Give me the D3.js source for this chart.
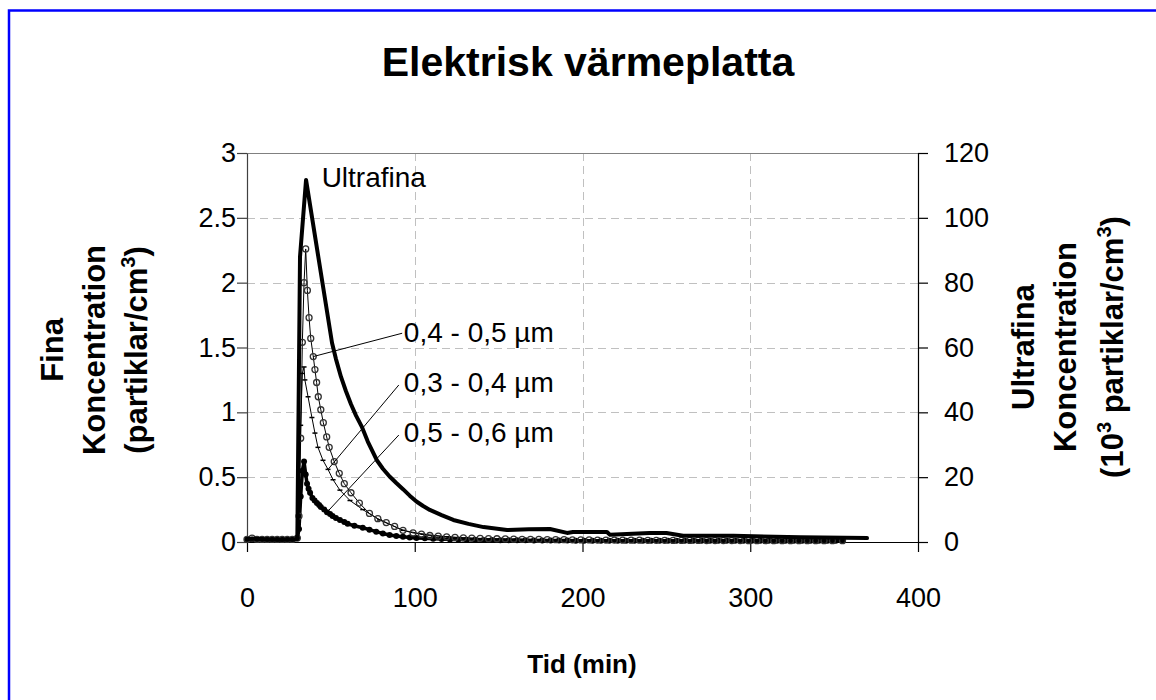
<!DOCTYPE html>
<html>
<head>
<meta charset="utf-8">
<script src="https://cdn.jsdelivr.net/npm/d3@7/dist/d3.min.js"></script>
<style>
  html, body { margin: 0; padding: 0; background: #fff; }
  svg { display: block; font-family: "Liberation Sans", Arial, sans-serif; }
</style>
</head>
<body>
<svg id="chart" width="1156" height="700"></svg>
<script>
// ---------- DATA ----------
const titleText = "Elektrisk värmeplatta";
const xTicks = [0, 100, 200, 300, 400];
const yLeftTicks = [0, 0.5, 1, 1.5, 2, 2.5, 3];
const yRightTicks = [0, 20, 40, 60, 80, 100, 120];

// Ultrafina (10^3 partiklar/cm3), right axis
const ultraTime = [0, 4, 8, 12, 16, 20, 24, 28, 30, 31.6, 35.2, 50.7, 53, 56, 59, 62, 65, 68.4, 72, 77.3, 81, 85, 89, 93, 97, 101, 105, 109, 116, 123, 132, 141, 155, 168, 180.6, 190.8, 194.3, 214.6, 216.4, 240, 250, 260, 290, 330, 369.6];
const ultraValue = [0.9, 1.0, 0.9, 0.8, 0.8, 0.7, 0.8, 0.8, 0.9, 88, 111.7, 61.4, 56.5, 51, 46.5, 42.5, 39, 35.6, 31, 25.3, 22.6, 20.2, 18.2, 16.3, 14.3, 12.5, 11.1, 9.9, 8.3, 6.8, 5.6, 4.6, 3.7, 3.9, 4.0, 2.8, 3.1, 3.1, 2.2, 2.8, 2.8, 1.9, 1.9, 1.5, 1.2];

// 0,4 - 0,5 µm (partiklar/cm3), left axis
const s45Time = [0, 3, 6, 9, 12, 15, 18, 21, 24, 27, 30, 31, 32, 33, 34, 35, 36, 37, 38, 39.5, 40.5, 41.5, 42.5, 44, 45.5, 47.5, 49, 52, 55, 58, 62, 67, 73, 78, 83, 88, 93, 99, 104, 109, 114, 119, 124, 129, 134, 139, 144, 149, 154, 159, 164, 169, 174, 179, 184, 189, 194, 199, 204, 209, 214, 219, 224, 229, 234, 239, 244, 249, 254, 259, 264, 269, 274, 279, 284, 289, 294, 299, 304, 309, 314, 319, 324, 329, 334, 339, 344, 349, 355];
const s45Value = [0.02, 0.03, 0.02, 0.02, 0.02, 0.02, 0.02, 0.02, 0.02, 0.02, 0.03, 0.2, 0.8, 1.54, 2.0, 2.26, 1.94, 1.73, 1.57, 1.43, 1.33, 1.23, 1.12, 1.02, 0.92, 0.81, 0.73, 0.62, 0.53, 0.45, 0.38, 0.30, 0.22, 0.18, 0.15, 0.12, 0.09, 0.07, 0.06, 0.05, 0.045, 0.04, 0.035, 0.032, 0.03, 0.028, 0.026, 0.025, 0.024, 0.022, 0.021, 0.02, 0.02, 0.019, 0.018, 0.018, 0.017, 0.016, 0.016, 0.015, 0.015, 0.015, 0.014, 0.014, 0.014, 0.013, 0.013, 0.013, 0.012, 0.012, 0.012, 0.012, 0.011, 0.011, 0.011, 0.011, 0.011, 0.01, 0.01, 0.01, 0.01, 0.01, 0.01, 0.01, 0.01, 0.01, 0.01, 0.01, 0.01];

// 0,3 - 0,4 µm
const s34Time = [0, 3, 6, 9, 12, 15, 18, 21, 24, 27, 30, 31, 32, 33, 34, 34.5, 36.4, 38.7, 40.5, 42.3, 45.3, 48.3, 51.3, 55.4, 61.4, 69, 79, 93, 105, 120, 140, 160, 180, 200, 225, 250, 275, 300, 325, 355];
const s34Value = [0.02, 0.02, 0.02, 0.02, 0.02, 0.02, 0.02, 0.02, 0.02, 0.02, 0.03, 0.3, 0.9, 1.3, 1.35, 1.25, 1.12, 0.96, 0.84, 0.73, 0.63, 0.56, 0.48, 0.40, 0.32, 0.25, 0.17, 0.09, 0.06, 0.04, 0.025, 0.02, 0.015, 0.012, 0.01, 0.01, 0.01, 0.01, 0.01, 0.01];

// 0,5 - 0,6 µm
const s56Time = [0, 3, 6, 9, 12, 15, 18, 21, 24, 27, 30, 31, 32, 33, 34, 35, 35.8, 36.7, 37.6, 39, 40.3, 41.7, 43, 44, 46, 47.7, 49.5, 51, 53, 55.4, 58, 60, 64, 69, 73, 77, 81, 85, 89, 93, 97, 101, 106, 111, 116, 121, 126, 131, 136, 141, 146, 151, 156, 161, 166, 171, 176, 181, 186, 191, 196, 201, 206, 211, 216, 221, 226, 231, 236, 241, 246, 251, 256, 261, 266, 271, 276, 281, 286, 291, 296, 301, 306, 311, 316, 321, 326, 331, 336, 341, 346, 351, 355];
const s56Value = [0.02, 0.02, 0.02, 0.02, 0.02, 0.02, 0.02, 0.02, 0.02, 0.02, 0.03, 0.1, 0.35, 0.55, 0.62, 0.52, 0.45, 0.41, 0.38, 0.34, 0.32, 0.30, 0.285, 0.27, 0.25, 0.23, 0.215, 0.20, 0.185, 0.17, 0.155, 0.14, 0.125, 0.11, 0.095, 0.08, 0.066, 0.054, 0.047, 0.04, 0.035, 0.03, 0.028, 0.025, 0.023, 0.02, 0.019, 0.018, 0.017, 0.016, 0.015, 0.014, 0.014, 0.013, 0.013, 0.012, 0.012, 0.011, 0.011, 0.011, 0.01, 0.01, 0.01, 0.01, 0.01, 0.01, 0.01, 0.01, 0.01, 0.01, 0.01, 0.01, 0.01, 0.01, 0.01, 0.01, 0.01, 0.01, 0.01, 0.01, 0.01, 0.01, 0.01, 0.01, 0.01, 0.01, 0.01, 0.01, 0.01, 0.01, 0.01, 0.01, 0.01];

// annotation labels (data units)
const labelUltra = { text: "Ultrafina", t: 44.5, v: 109.5 };
const labelFine = [
  { text: "0,4 - 0,5 µm", t: 93.5, v: 1.54, lineT: 92.5, lineV: 1.61, series: "s45", idx: 19 },
  { text: "0,3 - 0,4 µm", t: 93.5, v: 1.158, lineT: 90.5, lineV: 1.211, series: "s34", idx: 21 },
  { text: "0,5 - 0,6 µm", t: 93.5, v: 0.772, lineT: 90.5, lineV: 0.825, series: "s56", idx: 25 }
];

// ---------- CHART ----------
const svg = d3.select("#chart");
const plot = { left: 247, right: 918, top: 153, bottom: 542 };
const FONT = '"Liberation Sans", Arial, sans-serif';

// outer blue frame
svg.append("rect").attr("x", 9).attr("y", 10.5).attr("width", 1300).attr("height", 900)
  .attr("fill", "#fff").attr("stroke", "#0000ff").attr("stroke-width", 2.5);

const x = d3.scaleLinear().domain([0, 400]).range([plot.left, plot.right]);
const yL = d3.scaleLinear().domain([0, 3]).range([plot.bottom, plot.top]);
const yR = d3.scaleLinear().domain([0, 120]).range([plot.bottom, plot.top]);

// gridlines
const grid = svg.append("g").attr("stroke", "#c0c0c0").attr("stroke-width", 1).attr("stroke-dasharray", "8,5");
grid.selectAll("line.h").data(yLeftTicks.filter(d => d > 0 && d < 3)).join("line")
  .attr("x1", plot.left).attr("x2", plot.right)
  .attr("y1", d => Math.round(yL(d)) + 0.5).attr("y2", d => Math.round(yL(d)) + 0.5);
grid.selectAll("line.v").data(xTicks.filter(d => d > 0 && d < 400)).join("line")
  .attr("y1", plot.top).attr("y2", plot.bottom)
  .attr("x1", d => Math.round(x(d)) + 0.5).attr("x2", d => Math.round(x(d)) + 0.5);

// top border of plot
svg.append("line").attr("x1", plot.left).attr("x2", plot.right)
  .attr("y1", plot.top + 0.5).attr("y2", plot.top + 0.5).attr("stroke", "#808080").attr("stroke-width", 1);

// axes
function styleAxis(g, color) {
  g.selectAll("path").attr("stroke", color).attr("stroke-width", 1.2);
  g.selectAll("line").attr("stroke", color).attr("stroke-width", 1.2);
  g.selectAll("text").attr("fill", "#000").style("font-family", FONT).style("font-size", "27px");
}
const gx = svg.append("g").attr("transform", `translate(0,${plot.bottom})`)
  .call(d3.axisBottom(x).tickValues(xTicks).tickFormat(d3.format("d")).tickSize(10).tickSizeOuter(0).tickPadding(36));
styleAxis(gx, "#000");

const gyl = svg.append("g").attr("transform", `translate(${plot.left},0)`)
  .call(d3.axisLeft(yL).tickValues(yLeftTicks).tickFormat(d => String(d)).tickSize(10).tickSizeOuter(0).tickPadding(1));
styleAxis(gyl, "#404040");

const gyr = svg.append("g").attr("transform", `translate(${plot.right},0)`)
  .call(d3.axisRight(yR).tickValues(yRightTicks).tickFormat(d3.format("d")).tickSize(10).tickSizeOuter(0).tickPadding(16));
styleAxis(gyr, "#000");

// series
const zip = (t, v) => t.map((d, i) => ({ t: d, v: v[i] }));
const ultra = zip(ultraTime, ultraValue);
const s45 = zip(s45Time, s45Value);
const s34 = zip(s34Time, s34Value);
const s56 = zip(s56Time, s56Value);
const seriesMap = { s45, s34, s56 };

const lineL = d3.line().x(d => x(d.t)).y(d => yL(d.v));
const lineR = d3.line().x(d => x(d.t)).y(d => yR(d.v));

// 0,5-0,6 (heavy dotted)
svg.append("path").datum(s56).attr("d", lineL).attr("fill", "none").attr("stroke", "#000").attr("stroke-width", 3.5);
svg.append("g").selectAll("circle").data(s56).join("circle")
  .attr("cx", d => x(d.t)).attr("cy", d => yL(d.v)).attr("r", 3).attr("fill", "#000");

// 0,3-0,4 (thin with dash markers)
svg.append("path").datum(s34).attr("d", lineL).attr("fill", "none").attr("stroke", "#000").attr("stroke-width", 1);
svg.append("g").selectAll("line").data(s34).join("line")
  .attr("x1", d => x(d.t) - 2.5).attr("x2", d => x(d.t) + 2.5)
  .attr("y1", d => yL(d.v)).attr("y2", d => yL(d.v)).attr("stroke", "#000").attr("stroke-width", 1.5);

// 0,4-0,5 (thin with open circles)
svg.append("path").datum(s45).attr("d", lineL).attr("fill", "none").attr("stroke", "#000").attr("stroke-width", 1);
svg.append("g").selectAll("circle").data(s45).join("circle")
  .attr("cx", d => x(d.t)).attr("cy", d => yL(d.v)).attr("r", 3)
  .attr("fill", "none").attr("stroke", "#333").attr("stroke-width", 1.3);

// Ultrafina (thick)
svg.append("path").datum(ultra).attr("d", lineR).attr("fill", "none").attr("stroke", "#000")
  .attr("stroke-width", 4).attr("stroke-linejoin", "round").attr("stroke-linecap", "round");

// annotations
svg.append("text").attr("x", x(labelUltra.t)).attr("y", yR(labelUltra.v))
  .style("font-size", "28px").text(labelUltra.text);

labelFine.forEach(l => {
  const p = seriesMap[l.series][l.idx];
  svg.append("line").attr("x1", x(l.lineT)).attr("y1", yL(l.lineV)).attr("x2", x(p.t)).attr("y2", yL(p.v))
    .attr("stroke", "#000").attr("stroke-width", 1);
  svg.append("text").attr("x", x(l.t)).attr("y", yL(l.v)).style("font-size", "28px").text(l.text);
});

// title
svg.append("text").attr("x", 588).attr("y", 76).attr("text-anchor", "middle")
  .style("font-size", "41px").style("font-weight", "bold").text(titleText);

// x axis title
svg.append("text").attr("x", 582).attr("y", 673).attr("text-anchor", "middle")
  .style("font-size", "26px").style("font-weight", "bold").text("Tid (min)");

// left axis title (rotated, three lines)
const lt = svg.append("text").attr("transform", "translate(0,350) rotate(-90)")
  .attr("text-anchor", "middle").style("font-size", "31px").style("font-weight", "bold");
lt.append("tspan").attr("x", 0).attr("y", 63).text("Fina");
lt.append("tspan").attr("x", 0).attr("y", 105).text("Koncentration");
const lt3 = lt.append("tspan").attr("x", 0).attr("y", 147);
lt3.append("tspan").text("(partiklar/cm");
lt3.append("tspan").attr("dy", -12).style("font-size", "20px").text("3");
lt3.append("tspan").attr("dy", 12).text(")");

// right axis title
const rt = svg.append("text").attr("transform", "translate(0,347) rotate(-90)")
  .attr("text-anchor", "middle").style("font-size", "31px").style("font-weight", "bold");
rt.append("tspan").attr("x", 0).attr("y", 1034).text("Ultrafina");
rt.append("tspan").attr("x", 0).attr("y", 1076).text("Koncentration");
const rt3 = rt.append("tspan").attr("x", 0).attr("y", 1123);
rt3.append("tspan").text("(10");
rt3.append("tspan").attr("dy", -12).style("font-size", "20px").text("3");
rt3.append("tspan").attr("dy", 12).text(" partiklar/cm");
rt3.append("tspan").attr("dy", -12).style("font-size", "20px").text("3");
rt3.append("tspan").attr("dy", 12).text(")");
</script>
</body>
</html>
